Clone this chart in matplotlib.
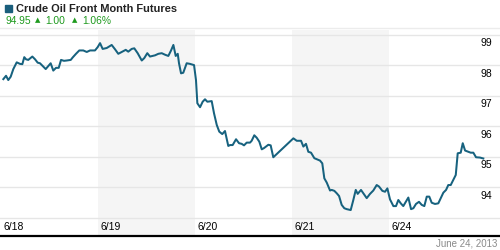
import numpy as np
import matplotlib
matplotlib.use('Agg')
import matplotlib.pyplot as plt
import matplotlib.transforms as mtransforms

# posicion en dias de sesion (0 = inicio 6/18) y precio
day_pos = [0.024, 0.052, 0.075, 0.100, 0.127, 0.162, 0.196, 0.220, 0.240, 0.258,
           0.281, 0.323, 0.351, 0.378, 0.402, 0.430, 0.461, 0.488, 0.512, 0.539,
           0.567, 0.595, 0.619, 0.649, 0.677, 0.719, 0.739, 0.773, 0.807, 0.848,
           0.884, 0.918, 0.969, 0.997, 1.021, 1.048, 1.090, 1.141, 1.175, 1.209,
           1.244, 1.286, 1.312, 1.347, 1.374, 1.409, 1.451, 1.477, 1.508, 1.536,
           1.588, 1.622, 1.657, 1.691, 1.725, 1.753, 1.777, 1.801, 1.822, 1.835,
           1.856, 1.879, 1.914, 1.948, 1.990, 2.010, 2.024, 2.052, 2.079, 2.103,
           2.127, 2.172, 2.196, 2.224, 2.250, 2.281, 2.309, 2.343, 2.361, 2.388,
           2.423, 2.454, 2.481, 2.505, 2.533, 2.567, 2.584, 2.611, 2.636, 2.663,
           2.688, 2.711, 2.756, 2.780, 2.807, 3.014, 3.049, 3.093, 3.117, 3.144,
           3.168, 3.196, 3.230, 3.261, 3.289, 3.312, 3.333, 3.358, 3.392, 3.409,
           3.436, 3.461, 3.485, 3.512, 3.539, 3.564, 3.605, 3.632, 3.657, 3.677,
           3.711, 3.735, 3.770, 3.804, 3.838, 3.873, 3.897, 3.931, 3.959, 3.983,
           4.010, 4.045, 4.072, 4.096, 4.121, 4.147, 4.199, 4.227, 4.251, 4.278,
           4.309, 4.337, 4.364, 4.389, 4.415, 4.440, 4.474, 4.508, 4.533, 4.560,
           4.588, 4.611, 4.636, 4.663, 4.688, 4.708, 4.739, 4.760, 4.784, 4.818,
           4.842, 4.869, 4.897, 4.938, 4.972]
price = [97.55, 97.66, 97.52, 97.63, 97.88, 98.10, 98.05, 98.04, 98.27, 98.20,
         98.18, 98.29, 98.20, 98.09, 98.07, 97.98, 97.88, 97.98, 98.07, 97.83,
         97.92, 97.92, 98.18, 98.15, 98.16, 98.18, 98.26, 98.38, 98.49, 98.49,
         98.44, 98.49, 98.49, 98.60, 98.73, 98.54, 98.57, 98.67, 98.53, 98.38,
         98.44, 98.51, 98.45, 98.54, 98.56, 98.40, 98.16, 98.24, 98.40, 98.29,
         98.33, 98.38, 98.40, 98.35, 98.31, 98.49, 98.67, 98.31, 98.38, 98.07,
         97.74, 97.76, 98.07, 98.05, 98.01, 97.52, 96.76, 96.63, 96.81, 96.89,
         96.81, 96.83, 96.43, 96.05, 95.83, 95.75, 95.85, 95.36, 95.39, 95.39,
         95.58, 95.45, 95.43, 95.38, 95.47, 95.47, 95.53, 95.71, 95.63, 95.50,
         95.25, 95.29, 95.40, 95.38, 94.99, 95.61, 95.53, 95.53, 95.34, 95.43,
         95.17, 95.14, 94.96, 94.92, 94.88, 94.79, 94.30, 94.16, 93.90, 93.92,
         93.89, 93.81, 93.72, 93.43, 93.32, 93.29, 93.26, 93.59, 93.92, 93.79,
         93.92, 93.81, 93.65, 93.79, 93.90, 94.08, 94.03, 93.89, 93.86, 93.97,
         93.61, 93.39, 93.39, 93.59, 93.48, 93.39, 93.67, 93.29, 93.32, 93.46,
         93.53, 93.43, 93.39, 93.70, 93.70, 93.50, 93.46, 93.48, 93.65, 93.83,
         93.92, 94.08, 94.08, 94.25, 94.41, 95.12, 95.14, 95.45, 95.21, 95.17,
         95.14, 95.14, 94.99, 94.98, 94.95]

fechas = ['6/18', '6/19', '6/20', '6/21', '6/24']
niveles = [93, 94, 95, 96, 97, 98, 99]
etiquetas_y = [94, 95, 96, 97, 98, 99]
titulo = 'Crude Oil Front Month Futures'
ultimo, cambio, pct = '94.95', '1.00', '1.06%'
fecha_nota = 'June 24, 2013'

azul = '#17627f'
verde = '#1e9a1e'
plt.rcParams['font.family'] = ['Liberation Sans', 'DejaVu Sans']

fig = plt.figure(figsize=(5, 2.5), dpi=100)
ax = fig.add_axes([0, 0.056, 1, 0.824])
ax.set_xlim(-0.0103, 5.144)
ax.set_ylim(92.41, 99.16)

# bandas de dias alternos
for i in range(1, len(fechas), 2):
    ax.axvspan(i, i + 1, color='#f5f5f5', lw=0, zorder=0)
for n in niveles:
    ax.axhline(n, color='#e6e6e6', lw=1, zorder=1)

ax.plot(day_pos, price, color=azul, lw=1.45, zorder=3, solid_joinstyle='round')

for s in ax.spines.values():
    s.set_visible(False)
ax.set_xticks([])
ax.set_yticks([])
ax.axhline(92.41, color='black', lw=1.6, zorder=4, clip_on=False)

# etiquetas del eje y (dentro, a la derecha, bajo la linea)
off = mtransforms.offset_copy(ax.get_yaxis_transform(), fig=fig, x=0, y=-2.5, units='points')
for n in etiquetas_y:
    ax.text(0.984, n, str(n), transform=off, ha='right', va='top', fontsize=7.5, color='black')

# etiquetas de fechas
offx = mtransforms.offset_copy(ax.get_xaxis_transform(), fig=fig, x=2, y=0, units='points')
for i, f in enumerate(fechas):
    ax.text(i, 0.045, f, transform=offx, ha='left', va='center', fontsize=7.5, color='black')

# encabezado
fig.patches.append(plt.Rectangle((0.010, 0.952), 0.014, 0.028, transform=fig.transFigure,
                                 color='#1a5e7c', figure=fig))
fig.text(0.032, 0.965, titulo, fontsize=7.9, fontweight='bold', color='#222222', va='center')
fila = 0.918
fig.text(0.010, fila, ultimo, fontsize=7.4, color=verde, va='center')
fig.text(0.069, fila, '\u25b2', fontsize=5, color=verde, va='center', family='DejaVu Sans')
fig.text(0.090, fila, cambio, fontsize=7.4, color=verde, va='center')
fig.text(0.144, fila, '\u25b2', fontsize=5, color=verde, va='center', family='DejaVu Sans')
fig.text(0.165, fila, pct, fontsize=7.4, color=verde, va='center')
fig.add_artist(plt.Line2D([0, 1], [0.888, 0.888], color='#ececec', lw=1, transform=fig.transFigure))

fig.text(0.994, 0.024, fecha_nota, fontsize=7, color='#8a8a8a', ha='right', va='center')

fig.savefig('out.png', dpi=100)
